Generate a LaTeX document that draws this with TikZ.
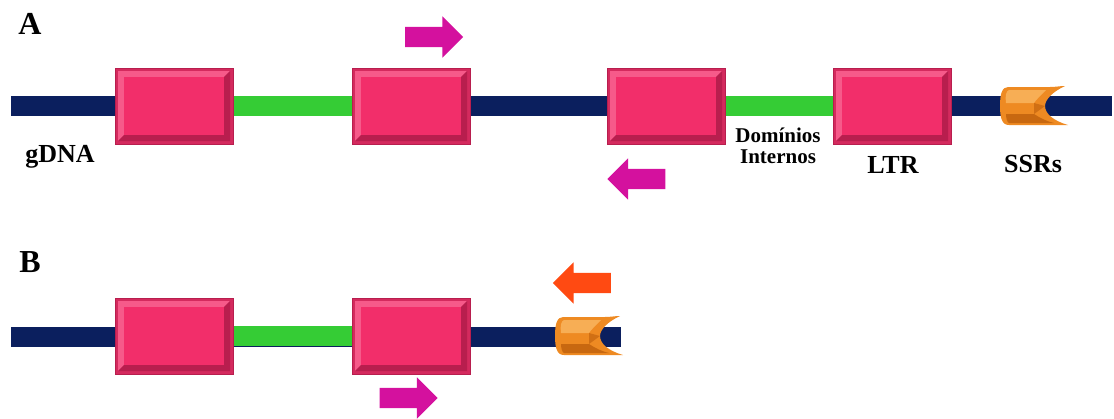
\documentclass[tikz,border=0pt]{standalone}
\usepackage{fontspec}
\setmainfont{Liberation Serif}
\usetikzlibrary{shapes.arrows,backgrounds,calc}
\definecolor{dnablue}{HTML}{0B1F5E}
\definecolor{ltrgreen}{HTML}{35CC35}
\definecolor{ltrpink}{HTML}{F22E6A}
\definecolor{ltrrim}{HTML}{D42A5E}
\definecolor{ltrhigh}{HTML}{F65A8A}
\definecolor{ltrshade}{HTML}{B81E4E}
\definecolor{primmag}{HTML}{D4119E}
\definecolor{primred}{HTML}{FF4A12}
\definecolor{ssrorange}{HTML}{EE8A22}
\definecolor{ssrlight}{HTML}{F7AE55}
\definecolor{ssrdark}{HTML}{C86810}
\newcommand\ssrsleeve[2]{%
  \begin{scope}[shift={(#1,#2)}]
    \fill[ssrorange] (8,-19) -- (50,-19) .. controls (56,-19) and (60,-20) .. (65,-20)
      .. controls (52,-14) and (45,-6) .. (45,0)
      .. controls (45,8) and (54,15) .. (68,19)
      -- (9,19) .. controls (2,19) and (0,12) .. (0,0) .. controls (0,-12) and (2,-19) .. (8,-19) -- cycle;
    \fill[ssrlight] (9,-16) -- (46,-16) .. controls (40,-10) and (36,-6) .. (34,-3) -- (6,-3) .. controls (5,-10) and (6,-15) .. (9,-16) -- cycle;
    \fill[ssrdark] (6,8) -- (34,8) .. controls (40,12) and (46,15) .. (54,17) -- (9,17) .. controls (7,16) and (6,12) .. (6,8) -- cycle;
    \fill[ssrdark!80!ssrorange] (34,-3) -- (45,0) -- (34,8) -- cycle;
  \end{scope}}
\begin{document}
\begin{tikzpicture}[x=1pt,y=-1pt,
  dnaline/.style={line width=20pt, dnablue, line cap=butt},
  greenline/.style={line width=20pt, ltrgreen},
  ltrbox/.style={rectangle, minimum width=118pt, minimum height=76pt, inner sep=0pt,
    fill=ltrrim, draw=ltrshade, line width=0.8pt,
    path picture={
      \coordinate (pnw) at (path picture bounding box.north west);
      \coordinate (pse) at (path picture bounding box.south east);
      \coordinate (pne) at (path picture bounding box.north east);
      \coordinate (psw) at (path picture bounding box.south west);
      \fill[ltrhigh] ($(pnw)+(3pt,-3pt)$) -- ($(pne)+(-3pt,-3pt)$) -- ($(pne)+(-9pt,-9pt)$) -- ($(pnw)+(9pt,-9pt)$) -- ($(psw)+(9pt,9pt)$) -- ($(psw)+(3pt,3pt)$) -- cycle;
      \fill[ltrshade] ($(pse)+(-3pt,3pt)$) -- ($(pne)+(-3pt,-3pt)$) -- ($(pne)+(-9pt,-9pt)$) -- ($(pse)+(-9pt,9pt)$) -- ($(psw)+(9pt,9pt)$) -- ($(psw)+(3pt,3pt)$) -- cycle;
      \fill[ltrpink] ($(pnw)+(9pt,-9pt)$) rectangle ($(pse)+(-9pt,9pt)$);}},
  primer/.style={single arrow, minimum height=58pt, minimum width=0pt,
    single arrow head extend=10.5pt, inner xsep=0pt, inner ysep=10pt, draw=none},
  lbl/.style={font=\bfseries\fontsize{26}{28}\selectfont, text=black, inner sep=0pt},
  panel/.style={font=\bfseries\fontsize{32}{34}\selectfont, text=black, inner sep=0pt},
  small/.style={font=\bfseries\fontsize{21}{24}\selectfont, text=black, inner sep=0pt, align=center},
]
\useasboundingbox (0,0) rectangle (1114,418);

% ---------- Panel A ----------
\node[panel] (labA) at (30,24) {A};
\coordinate (a0) at (11,106);
\coordinate (a9) at (1112,106);
\node[ltrbox] (a1) at (174,106) {};
\node[ltrbox] (a2) at (411,106) {};
\node[ltrbox] (a3) at (666,106) {};
\node[ltrbox] (a4) at (892,106) {};
\begin{pgfonlayer}{background}
  \draw[dnaline] (a0) -- (a9);
  \draw[greenline] (a1.east) -- (a2.west);
  \draw[greenline] (a3.east) -- (a4.west);
\end{pgfonlayer}
\ssrsleeve{1000}{106}
\node[primer, fill=primmag] (pa1) at (429,37) {};
\node[primer, fill=primmag, shape border rotate=180] (pa2) at (641.5,179) {};
\node[lbl] (gdna) at (60,157) {gDNA};
\node[small] (dom) at (778,146) {Domínios\\[-3pt]Internos};
\node[lbl] (ltr) at (893,165) {LTR};
\node[lbl] (ssrs) at (1033,164) {SSRs};

% ---------- Panel B ----------
\node[panel] (labB) at (30,262) {B};
\coordinate (b0) at (11,337);
\coordinate (b9) at (621,337);
\node[ltrbox] (b1) at (174,336) {};
\node[ltrbox] (b2) at (411,336) {};
\begin{pgfonlayer}{background}
  \draw[dnaline] (b0) -- (b9);
  \draw[greenline] (b1.east) -- (b2.west);
\end{pgfonlayer}
\ssrsleeve{555}{336}
\node[primer, fill=primred, shape border rotate=180] (pb1) at (587,283) {};
\node[primer, fill=primmag] (pb2) at (403.5,398) {};
\end{tikzpicture}
\end{document}
